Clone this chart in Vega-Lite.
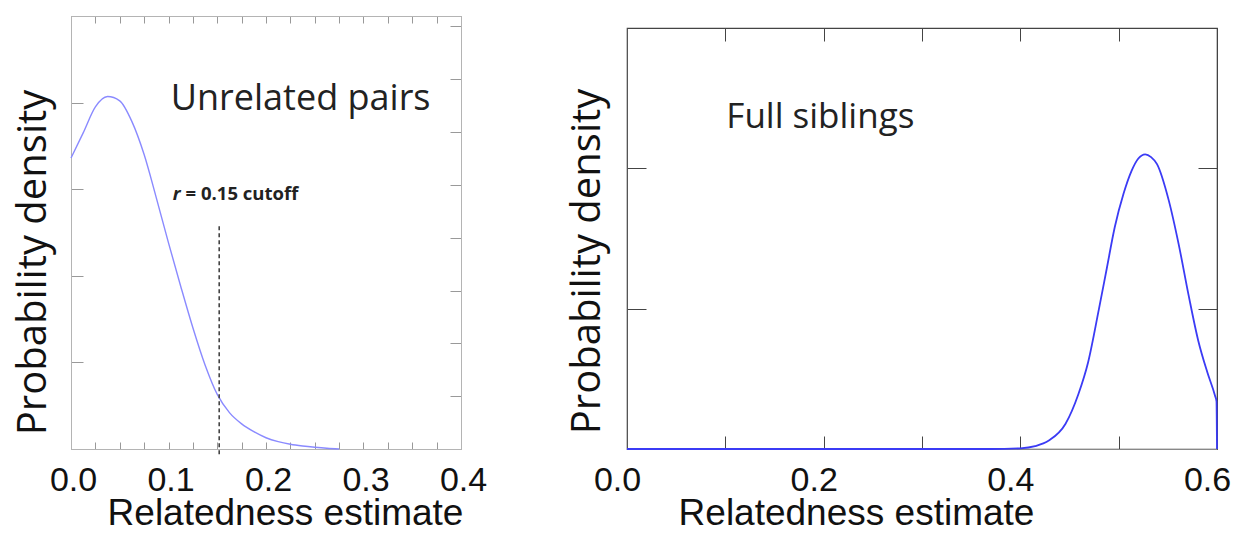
{
  "$schema": "https://vega.github.io/schema/vega-lite/v6.json",
  "padding": {"left": 12, "top": 15, "right": 0, "bottom": 0},
  "spacing": 78,
  "background": "white",
  "config": {"axis": {"grid": false}, "text": {"font": "Open Sans"}},
  "datasets": {
    "unrel": [
      {"x": 0, "y": 3.36}, {"x": 0.0125, "y": 3.65}, {"x": 0.025, "y": 3.95}, {"x": 0.0375, "y": 4.07},
      {"x": 0.05, "y": 4.02}, {"x": 0.0625, "y": 3.78}, {"x": 0.075, "y": 3.4}, {"x": 0.0875, "y": 2.9},
      {"x": 0.1, "y": 2.38}, {"x": 0.1125, "y": 1.88}, {"x": 0.125, "y": 1.4}, {"x": 0.1375, "y": 0.97},
      {"x": 0.15, "y": 0.63}, {"x": 0.1625, "y": 0.42}, {"x": 0.175, "y": 0.29}, {"x": 0.1875, "y": 0.2},
      {"x": 0.2, "y": 0.13}, {"x": 0.2125, "y": 0.085}, {"x": 0.225, "y": 0.055}, {"x": 0.2375, "y": 0.035},
      {"x": 0.25, "y": 0.02}, {"x": 0.2625, "y": 0.008}, {"x": 0.275, "y": 0}
    ],
    "cutoff": [{"x": 0.152, "y": -0.06, "y2": 2.58}],
    "unrelText": [{"label": "Unrelated pairs", "x": 0.1023, "y": 3.92}],
    "rText": [{"label": "r", "x": 0.1044, "y": 2.87}],
    "cutText": [{"label": "= 0.15 cutoff", "x": 0.1175, "y": 2.87}],
    "sib": [
      {"i": 0, "x": 0, "y": 0}, {"i": 1, "x": 0.37, "y": 0}, {"i": 2, "x": 0.4, "y": 0.005},
      {"i": 3, "x": 0.415, "y": 0.02}, {"i": 4, "x": 0.429, "y": 0.06}, {"i": 5, "x": 0.446, "y": 0.18},
      {"i": 6, "x": 0.459, "y": 0.39}, {"i": 7, "x": 0.469, "y": 0.62}, {"i": 8, "x": 0.48, "y": 1.0},
      {"i": 9, "x": 0.488, "y": 1.29}, {"i": 10, "x": 0.496, "y": 1.58}, {"i": 11, "x": 0.505, "y": 1.82},
      {"i": 12, "x": 0.513, "y": 1.98}, {"i": 13, "x": 0.52, "y": 2.07}, {"i": 14, "x": 0.527, "y": 2.1},
      {"i": 15, "x": 0.533, "y": 2.08}, {"i": 16, "x": 0.539, "y": 2.03}, {"i": 17, "x": 0.551, "y": 1.77},
      {"i": 18, "x": 0.561, "y": 1.46}, {"i": 19, "x": 0.571, "y": 1.1}, {"i": 20, "x": 0.581, "y": 0.77},
      {"i": 21, "x": 0.59, "y": 0.55}, {"i": 22, "x": 0.598, "y": 0.38}, {"i": 23, "x": 0.5995, "y": 0.34},
      {"i": 24, "x": 0.6, "y": 0}
    ],
    "sibText": [{"label": "Full siblings", "x": 0.101, "y": 2.29}]
  },
  "hconcat": [
    {
      "width": 390,
      "height": 433,
      "view": {"stroke": "#b4b4b4", "strokeWidth": 1},
      "resolve": {"scale": {"x": "independent"}, "axis": {"x": "independent"}},
      "layer": [
        {
          "data": {"name": "unrel"},
          "mark": {"type": "line", "color": "#8a8aff", "strokeWidth": 1.4, "interpolate": "monotone"},
          "encoding": {
            "x": {"field": "x", "type": "quantitative", "scale": {"domain": [0, 0.4], "nice": false, "zero": false},
              "axis": {"orient": "bottom", "values": [0, 0.1, 0.2, 0.3, 0.4], "format": ".1f",
                "tickSize": -7, "tickColor": "#999999", "domainColor": "#b4b4b4",
                "labelFont": "Liberation Sans", "labelFontSize": 34, "labelColor": "#111111", "labelBaseline": "alphabetic", "labelPadding": 48, "labelOverlap": false, "labelFlush": false, "labelOffset": 2,
                "title": "Relatedness estimate", "titleFont": "Liberation Sans", "titleFontSize": 37, "titleFontWeight": "normal", "titleColor": "#111111",
                "titleX": 214, "titleY": 75, "titleBaseline": "alphabetic", "titleAlign": "center"}},
            "y": {"field": "y", "type": "quantitative", "scale": {"domain": [0, 5], "nice": false, "zero": false},
              "axis": {"orient": "left", "values": [1, 2, 3, 4], "labels": false, "tickSize": -12, "tickColor": "#999999", "domainColor": "#b4b4b4",
                "title": "Probability density", "titleFont": "Open Sans", "titleFontSize": 40, "titleFontWeight": "normal", "titleColor": "#111111",
                "titleX": -38, "titleY": 246, "titleBaseline": "middle", "titleAlign": "center", "titleAngle": 270}}
          }
        },
        {
          "data": {"name": "cutoff"},
          "mark": {"type": "rule", "color": "#444444", "strokeWidth": 1.6, "strokeDash": [4, 3]},
          "encoding": {
            "x": {"field": "x", "type": "quantitative", "scale": {"domain": [0, 0.4], "nice": false, "zero": false},
              "axis": {"orient": "bottom", "values": [0.025, 0.05, 0.075, 0.125, 0.15, 0.175, 0.225, 0.25, 0.275, 0.325, 0.35, 0.375],
                "labels": false, "tickSize": -7, "tickColor": "#999999", "domainColor": "#b4b4b4", "title": null}},
            "y": {"field": "y", "type": "quantitative",
              "axis": {"orient": "right", "values": [0.61, 1.22, 1.83, 2.44, 3.05, 3.66, 4.27, 4.88], "labels": false, "tickSize": -11, "tickColor": "#999999", "domainColor": "#b4b4b4", "title": null}},
            "y2": {"field": "y2"}
          }
        },
        {
          "data": {"name": "unrelText"},
          "mark": {"type": "text", "font": "Open Sans", "fontSize": 36, "align": "left", "baseline": "alphabetic", "color": "#222222"},
          "encoding": {
            "x": {"field": "x", "type": "quantitative", "scale": {"domain": [0, 0.4], "nice": false, "zero": false},
              "axis": {"orient": "top", "values": [0,0.025,0.05,0.075,0.1,0.125,0.15,0.175,0.2,0.225,0.25,0.275,0.3,0.325,0.35,0.375,0.4],
                "labels": false, "tickSize": -7, "tickColor": "#999999", "domainColor": "#b4b4b4", "title": null}},
            "y": {"field": "y", "type": "quantitative", "axis": null},
            "text": {"field": "label"}
          }
        },
        {
          "data": {"name": "rText"},
          "mark": {"type": "text", "font": "Open Sans", "fontSize": 18.5, "fontWeight": "bold", "fontStyle": "italic", "align": "left", "baseline": "alphabetic", "color": "#222222"},
          "encoding": {
            "x": {"field": "x", "type": "quantitative", "scale": {"domain": [0, 0.4], "nice": false, "zero": false}, "axis": null},
            "y": {"field": "y", "type": "quantitative", "axis": null},
            "text": {"field": "label"}
          }
        },
        {
          "data": {"name": "cutText"},
          "mark": {"type": "text", "font": "Open Sans", "fontSize": 18.5, "fontWeight": "bold", "align": "left", "baseline": "alphabetic", "color": "#222222"},
          "encoding": {
            "x": {"field": "x", "type": "quantitative", "scale": {"domain": [0, 0.4], "nice": false, "zero": false}, "axis": null},
            "y": {"field": "y", "type": "quantitative", "axis": null},
            "text": {"field": "label"}
          }
        }
      ]
    },
    {
      "spacing": 0,
      "vconcat": [
        {
          "width": 590,
          "height": 10,
          "view": {"stroke": null},
          "data": {"values": []},
          "mark": {"type": "point", "opacity": 0},
          "encoding": {}
        },
        {
          "width": 590,
          "height": 421,
          "view": {"stroke": "#444444", "strokeWidth": 1.2},
          "layer": [
            {
              "data": {"name": "sib"},
              "mark": {"type": "line", "color": "#3b3bf5", "strokeWidth": 1.8, "interpolate": "monotone"},
              "encoding": {
                "x": {"field": "x", "type": "quantitative", "scale": {"domain": [0, 0.6], "nice": false, "zero": false},
                  "axis": {"orient": "bottom", "values": [0, 0.1, 0.2, 0.3, 0.4, 0.5, 0.6],
                    "labelExpr": "round(datum.value*10) % 2 == 0 ? format(datum.value, '.1f') : ''",
                    "tickSize": -13, "tickColor": "#444444", "domainColor": "#888888", "labelOffset": -10,
                    "labelFont": "Liberation Sans", "labelFontSize": 34, "labelColor": "#111111", "labelBaseline": "alphabetic", "labelPadding": 54, "labelOverlap": false, "labelFlush": false,
                    "title": "Relatedness estimate", "titleFont": "Liberation Sans", "titleFontSize": 37, "titleFontWeight": "normal", "titleColor": "#111111",
                    "titleX": 229, "titleY": 75, "titleBaseline": "alphabetic", "titleAlign": "center"}},
                "y": {"field": "y", "type": "quantitative", "scale": {"domain": [0, 3], "nice": false, "zero": false},
                  "axis": {"orient": "left", "values": [1, 2], "labels": false, "tickSize": -19, "tickColor": "#444444", "domainColor": "#555555",
                    "title": "Probability density", "titleFont": "Open Sans", "titleFontSize": 40, "titleFontWeight": "normal", "titleColor": "#111111",
                    "titleX": -40, "titleY": 233, "titleBaseline": "middle", "titleAlign": "center", "titleAngle": 270}},
                "order": {"field": "i", "type": "quantitative"}
              }
            },
            {
              "data": {"name": "sibText"},
              "mark": {"type": "text", "font": "Open Sans", "fontSize": 35, "align": "left", "baseline": "alphabetic", "color": "#222222"},
              "encoding": {
                "x": {"field": "x", "type": "quantitative",
                  "axis": {"orient": "top", "values": [0, 0.1, 0.2, 0.3, 0.4, 0.5, 0.6], "labels": false, "tickSize": -13, "tickColor": "#444444", "domainColor": "#444444", "title": null}},
                "y": {"field": "y", "type": "quantitative",
                  "axis": {"orient": "right", "values": [1, 2], "labels": false, "tickSize": -19, "tickColor": "#444444", "domainColor": "#444444", "title": null}},
                "text": {"field": "label"}
              }
            }
          ]
        }
      ]
    }
  ]
}
